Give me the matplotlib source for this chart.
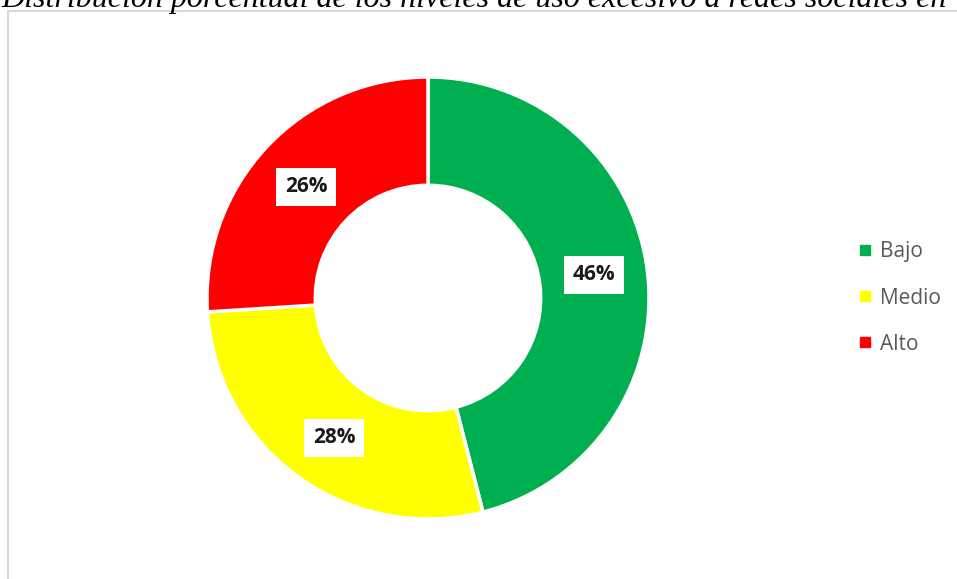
import matplotlib.pyplot as plt
from matplotlib.patches import Rectangle
from matplotlib.lines import Line2D

categorias = ["Bajo", "Medio", "Alto"]
porcentajes = [46, 28, 26]
colores = ["#00b050", "#ffff00", "#ff0000"]
titulo = "Distribución porcentual de los niveles de uso excesivo a redes sociales en"

fig = plt.figure(figsize=(9.57, 5.79), dpi=100)

# chart area border (extends beyond the right/bottom edges like the crop)
fig.patches.append(Rectangle((8 / 957, -0.05), 1.0, 1 - 11 / 579 + 0.05,
                             transform=fig.transFigure, fill=False,
                             edgecolor="#d9d9d9", linewidth=1.5))

fig.text(1 / 957, 1 - 7 / 579, titulo, fontsize=23, style="italic",
         family="Liberation Serif", va="baseline", ha="left")

# donut centre ~ (428, 298), outer radius ~ 221 px
cx, cy, r = 428, 298, 221
ax = fig.add_axes([(cx - r) / 957, 1 - (cy + r) / 579, 2 * r / 957, 2 * r / 579])
wedges, _ = ax.pie(porcentajes, colors=colores, startangle=90, counterclock=False,
                   radius=1.0, wedgeprops=dict(width=0.49, edgecolor="white", linewidth=2.5))
ax.set_xlim(-1, 1)
ax.set_ylim(-1, 1)
ax.set_aspect("equal")
ax.axis("off")

# label positions in data coordinates
pos = [((594 - cx) / r, (cy - 275) / r), ((334 - cx) / r, (cy - 438) / r),
       ((306 - cx) / r, (cy - 187) / r)]
for p, (x, y) in zip(porcentajes, pos):
    ax.text(x, y, f"{p}%", ha="center", va="center", fontsize=15, fontweight="bold",
            family="Open Sans", color="#1a1a1a",
            bbox=dict(boxstyle="square,pad=0.4", facecolor="white", edgecolor="none"))

# square legend markers like Excel
handles = [Line2D([], [], linestyle="none", marker="s", markersize=6.5,
                  markerfacecolor=c, markeredgecolor=c) for c in colores]
leg = fig.legend(handles, categorias, loc="center left", bbox_to_anchor=(860 / 957, 1 - 298 / 579),
                 frameon=False, fontsize=15, handlelength=0.5,
                 labelspacing=1.2, handletextpad=0.45, borderaxespad=0, borderpad=0)
for t in leg.get_texts():
    t.set_color("#595959")
    t.set_family("Open Sans")

fig.savefig("out.png", dpi=100)
